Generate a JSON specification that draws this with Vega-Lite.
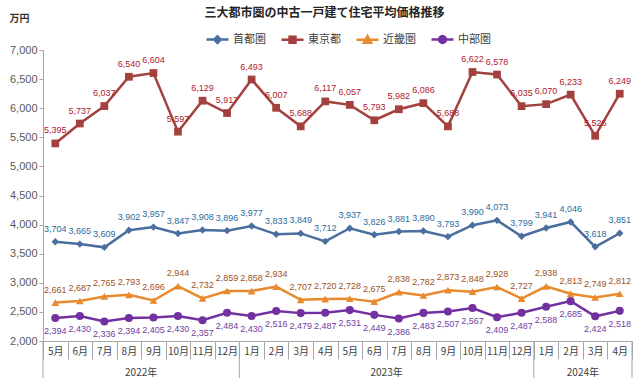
{
  "$schema": "https://vega.github.io/schema/vega-lite/v6.json",
  "autosize": "none",
  "width": 589,
  "height": 291,
  "padding": {"left": 43, "top": 50, "right": 8, "bottom": 43},
  "background": "white",
  "title": {"text": "三大都市圏の中古一戸建て住宅平均価格推移", "font": "Noto Sans CJK JP", "fontSize": 12, "fontWeight": "bold", "color": "#262626", "anchor": "middle", "frame": "group", "dx": -13, "dy": 11},
  "config": {"view": {"stroke": null}},
  "resolve": {"scale": {"y": "independent"}, "axis": {"y": "independent"}},
  "datasets": {
    "prices": [
      {"k": "2022-05", "首都圏": 3704, "東京都": 5395, "近畿圏": 2661, "中部圏": 2394},
      {"k": "2022-06", "首都圏": 3665, "東京都": 5737, "近畿圏": 2687, "中部圏": 2430},
      {"k": "2022-07", "首都圏": 3609, "東京都": 6037, "近畿圏": 2765, "中部圏": 2336},
      {"k": "2022-08", "首都圏": 3902, "東京都": 6540, "近畿圏": 2793, "中部圏": 2394},
      {"k": "2022-09", "首都圏": 3957, "東京都": 6604, "近畿圏": 2696, "中部圏": 2405},
      {"k": "2022-10", "首都圏": 3847, "東京都": 5597, "近畿圏": 2944, "中部圏": 2430},
      {"k": "2022-11", "首都圏": 3908, "東京都": 6129, "近畿圏": 2732, "中部圏": 2357},
      {"k": "2022-12", "首都圏": 3896, "東京都": 5917, "近畿圏": 2859, "中部圏": 2484},
      {"k": "2023-01", "首都圏": 3977, "東京都": 6493, "近畿圏": 2858, "中部圏": 2430},
      {"k": "2023-02", "首都圏": 3833, "東京都": 6007, "近畿圏": 2934, "中部圏": 2516},
      {"k": "2023-03", "首都圏": 3849, "東京都": 5688, "近畿圏": 2707, "中部圏": 2479},
      {"k": "2023-04", "首都圏": 3712, "東京都": 6117, "近畿圏": 2720, "中部圏": 2487},
      {"k": "2023-05", "首都圏": 3937, "東京都": 6057, "近畿圏": 2728, "中部圏": 2531},
      {"k": "2023-06", "首都圏": 3826, "東京都": 5793, "近畿圏": 2675, "中部圏": 2449},
      {"k": "2023-07", "首都圏": 3881, "東京都": 5982, "近畿圏": 2838, "中部圏": 2386},
      {"k": "2023-08", "首都圏": 3890, "東京都": 6086, "近畿圏": 2782, "中部圏": 2483},
      {"k": "2023-09", "首都圏": 3793, "東京都": 5688, "近畿圏": 2873, "中部圏": 2507},
      {"k": "2023-10", "首都圏": 3990, "東京都": 6622, "近畿圏": 2848, "中部圏": 2567},
      {"k": "2023-11", "首都圏": 4073, "東京都": 6578, "近畿圏": 2928, "中部圏": 2409},
      {"k": "2023-12", "首都圏": 3799, "東京都": 6035, "近畿圏": 2727, "中部圏": 2487},
      {"k": "2024-01", "首都圏": 3941, "東京都": 6070, "近畿圏": 2938, "中部圏": 2588},
      {"k": "2024-02", "首都圏": 4046, "東京都": 6233, "近畿圏": 2813, "中部圏": 2685},
      {"k": "2024-03", "首都圏": 3618, "東京都": 5526, "近畿圏": 2749, "中部圏": 2424},
      {"k": "2024-04", "首都圏": 3851, "東京都": 6249, "近畿圏": 2812, "中部圏": 2518}
    ],
    "yearStarts": [{"k": "2022-05"}, {"k": "2023-01"}, {"k": "2024-01"}],
    "yearEnd": [{"k": "2024-04"}],
    "years": [{"k": "2022-08", "year": "2022年"}, {"k": "2023-06", "year": "2023年"}, {"k": "2024-02", "year": "2024年"}],
    "ticks": [{"v": 2000}, {"v": 2500}, {"v": 3000}, {"v": 3500}, {"v": 4000}, {"v": 4500}, {"v": 5000}, {"v": 5500}, {"v": 6000}, {"v": 6500}, {"v": 7000}]
  },
  "layer": [
    {
      "data": {"name": "ticks"},
      "mark": {"type": "point", "opacity": 0, "size": 1},
      "encoding": {
        "y": {"field": "v", "type": "quantitative", "scale": {"domain": [2000, 7000], "nice": false, "zero": false}, "axis": {"values": [2000, 2500, 3000, 3500, 4000, 4500, 5000, 5500, 6000, 6500, 7000], "format": ",", "labelExpr": "format(datum.value, ',')", "grid": false, "tickSize": 4, "tickColor": "#A6A6A6", "domainColor": "#A6A6A6", "labelFont": "Liberation Sans", "labelFontSize": 11, "labelColor": "#595959", "labelPadding": 2, "labelOverlap": false, "title": "万円", "titleAngle": 0, "titleX": -24, "titleY": -32, "titleAlign": "center", "titleBaseline": "middle", "titleFont": "Noto Sans CJK JP", "titleFontSize": 10, "titleFontWeight": "bold", "titleColor": "#333333"}}
      }
    },
    {
      "data": {"name": "prices"},
      "transform": [{"fold": ["首都圏", "東京都", "近畿圏", "中部圏"], "as": ["series", "price"]}],
      "layer": [
        {
          "mark": {"type": "line", "strokeWidth": 2.5},
          "encoding": {
            "x": {"field": "k", "type": "ordinal", "axis": {"title": null, "labelExpr": "isString(datum.value) && length(datum.value) > 5 ? toNumber(substring(datum.value,5)) + '月' : ''", "labelAngle": 0, "tickBand": "extent", "tickSize": 18, "tickColor": "#A6A6A6", "domainColor": "#A6A6A6", "labelFont": "Noto Sans CJK JP", "labelFontSize": 10, "labelColor": "#404040", "labelBaseline": "middle", "labelPadding": -8, "grid": false}},
            "y": {"field": "price", "type": "quantitative", "scale": {"domain": [2000, 7000], "nice": false, "zero": false}, "axis": null},
            "stroke": {"field": "series", "type": "nominal", "scale": {"domain": ["首都圏", "東京都", "近畿圏", "中部圏"], "range": ["#4A6E9E", "#A3413F", "#E88A2E", "#7330A0"]}, "legend": {"title": null, "orient": "none", "legendX": 162, "legendY": -23, "direction": "horizontal", "labelFont": "Noto Sans CJK JP", "labelFontSize": 11, "labelColor": "#404040", "symbolSize": 484, "symbolStrokeWidth": 2.5, "symbolOpacity": 1, "columnPadding": 10, "labelOffset": 3}}
          }
        },
        {
          "transform": [{"filter": "datum.series === '首都圏'"}],
          "mark": {"type": "point", "shape": "diamond", "filled": true, "size": 55, "opacity": 1},
          "encoding": {"x": {"field": "k", "type": "ordinal"}, "y": {"field": "price", "type": "quantitative", "axis": null}, "fill": {"field": "series", "type": "nominal", "scale": {"domain": ["首都圏", "東京都", "近畿圏", "中部圏"], "range": ["#4A6E9E", "#A3413F", "#E88A2E", "#7330A0"]}}}
        },
        {
          "transform": [{"filter": "datum.series === '東京都'"}],
          "mark": {"type": "point", "shape": "square", "filled": true, "size": 60, "opacity": 1},
          "encoding": {"x": {"field": "k", "type": "ordinal"}, "y": {"field": "price", "type": "quantitative", "axis": null}, "fill": {"field": "series", "type": "nominal"}}
        },
        {
          "transform": [{"filter": "datum.series === '近畿圏'"}],
          "mark": {"type": "point", "shape": "triangle-up", "filled": true, "size": 60, "opacity": 1},
          "encoding": {"x": {"field": "k", "type": "ordinal"}, "y": {"field": "price", "type": "quantitative", "axis": null}, "fill": {"field": "series", "type": "nominal"}}
        },
        {
          "transform": [{"filter": "datum.series === '中部圏'"}],
          "mark": {"type": "point", "shape": "circle", "filled": true, "size": 65, "opacity": 1},
          "encoding": {"x": {"field": "k", "type": "ordinal"}, "y": {"field": "price", "type": "quantitative", "axis": null}, "fill": {"field": "series", "type": "nominal"}}
        },
        {
          "mark": {"type": "point", "filled": true, "opacity": 0, "size": 10},
          "encoding": {
            "x": {"field": "k", "type": "ordinal"},
            "y": {"field": "price", "type": "quantitative", "axis": null},
            "fill": {"field": "series", "type": "nominal", "legend": {"title": null, "orient": "none", "legendX": 162, "legendY": -23, "direction": "horizontal", "labelFont": "Noto Sans CJK JP", "labelFontSize": 11, "labelColor": "#404040", "symbolSize": 484, "symbolStrokeWidth": 2.5, "symbolOpacity": 1, "columnPadding": 10, "labelOffset": 3}},
            "stroke": {"field": "series", "type": "nominal", "legend": {"title": null, "orient": "none", "legendX": 162, "legendY": -23, "direction": "horizontal", "labelFont": "Noto Sans CJK JP", "labelFontSize": 11, "labelColor": "#404040", "symbolSize": 484, "symbolStrokeWidth": 2.5, "symbolOpacity": 1, "columnPadding": 10, "labelOffset": 3}},
            "shape": {"field": "series", "type": "nominal", "scale": {"domain": ["首都圏", "東京都", "近畿圏", "中部圏"], "range": ["M-1,0L1,0M0,-0.3L0.3,0L0,0.3L-0.3,0ZM0,-0.12L0.12,0L0,0.12L-0.12,0Z", "M-1,0L1,0M-0.27,-0.27L0.27,-0.27L0.27,0.27L-0.27,0.27ZM-0.1,-0.1L0.1,-0.1L0.1,0.1L-0.1,0.1Z", "M-1,0L1,0M0,-0.33L0.33,0.26L-0.33,0.26ZM0,-0.1L0.1,0.12L-0.1,0.12Z", "M-1,0L1,0M0.31,0L0.268,0.155L0.155,0.268L0,0.31L-0.155,0.268L-0.268,0.155L-0.31,0L-0.268,-0.155L-0.155,-0.268L0,-0.31L0.155,-0.268L0.268,-0.155ZM0.12,0L0,0.12L-0.12,0L0,-0.12Z"]}, "legend": {"title": null, "orient": "none", "legendX": 162, "legendY": -23, "direction": "horizontal", "labelFont": "Noto Sans CJK JP", "labelFontSize": 11, "labelColor": "#404040", "symbolSize": 484, "symbolStrokeWidth": 2.5, "symbolOpacity": 1, "columnPadding": 10, "labelOffset": 3}}
          }
        },
        {
          "transform": [{"filter": "datum.series !== '中部圏'"}],
          "mark": {"type": "text", "dy": -13, "font": "Liberation Sans", "fontSize": 9},
          "encoding": {
            "x": {"field": "k", "type": "ordinal"},
            "y": {"field": "price", "type": "quantitative", "axis": null},
            "text": {"field": "price", "type": "quantitative", "format": ","},
            "color": {"field": "series", "type": "nominal", "scale": {"domain": ["首都圏", "東京都", "近畿圏", "中部圏"], "range": ["#2B6C9B", "#B0182E", "#A0521C", "#7040A0"]}, "legend": null}
          }
        },
        {
          "transform": [{"filter": "datum.series === '中部圏'"}],
          "mark": {"type": "text", "dy": 13, "font": "Liberation Sans", "fontSize": 9},
          "encoding": {
            "x": {"field": "k", "type": "ordinal"},
            "y": {"field": "price", "type": "quantitative", "axis": null},
            "text": {"field": "price", "type": "quantitative", "format": ","},
            "color": {"field": "series", "type": "nominal", "legend": null}
          }
        }
      ]
    },
    {
      "data": {"name": "yearStarts"},
      "mark": {"type": "rule", "color": "#A6A6A6", "strokeWidth": 1},
      "encoding": {
        "x": {"field": "k", "type": "ordinal", "bandPosition": 0},
        "y": {"datum": 2000, "type": "quantitative", "scale": {"domain": [2000, 7000], "nice": false, "zero": false}, "axis": null},
        "y2": {"datum": 1364}
      }
    },
    {
      "data": {"name": "yearEnd"},
      "mark": {"type": "rule", "color": "#A6A6A6", "strokeWidth": 1},
      "encoding": {
        "x": {"field": "k", "type": "ordinal", "bandPosition": 1},
        "y": {"datum": 2000, "type": "quantitative", "scale": {"domain": [2000, 7000], "nice": false, "zero": false}, "axis": null},
        "y2": {"datum": 1364}
      }
    },
    {
      "data": {"name": "years"},
      "mark": {"type": "text", "font": "Noto Sans CJK JP", "fontSize": 10, "color": "#404040", "baseline": "middle"},
      "encoding": {
        "x": {"field": "k", "type": "ordinal", "bandPosition": 1},
        "y": {"datum": 1450, "type": "quantitative", "scale": {"domain": [2000, 7000], "nice": false, "zero": false}, "axis": null},
        "text": {"field": "year"}
      }
    }
  ]
}
